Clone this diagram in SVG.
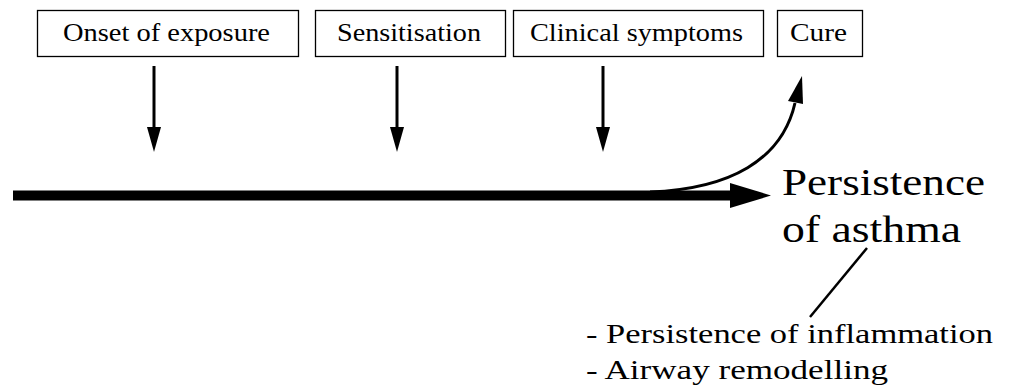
<svg xmlns="http://www.w3.org/2000/svg" width="1013" height="390" viewBox="0 0 1013 390">
<style>
  .box { fill: #ffffff; stroke: #000000; stroke-width: 1.3; }
  .lbl { font-family: "Liberation Serif", "Times New Roman", serif; font-size: 25px; fill: #000000; }
  .big { font-family: "Liberation Serif", "Times New Roman", serif; font-size: 38px; fill: #000000; }
  .note { font-family: "Liberation Serif", "Times New Roman", serif; font-size: 28px; fill: #000000; }
  .conn { stroke: #000000; fill: none; }
</style>
<defs>
  <marker id="ah" markerUnits="userSpaceOnUse" markerWidth="26" markerHeight="15" refX="0" refY="7" orient="auto">
    <path d="M0,0 L25,7 L0,14 Z" fill="#000000"/>
  </marker>
</defs>
<rect width="1013" height="390" fill="#ffffff"/>

<g id="node-onset">
  <rect class="box" x="37.5" y="10.5" width="261" height="46"/>
  <text class="lbl" x="63" y="41" textLength="207" lengthAdjust="spacingAndGlyphs">Onset of exposure</text>
</g>
<g id="node-sensitisation">
  <rect class="box" x="315.5" y="10.5" width="190" height="46"/>
  <text class="lbl" x="337" y="41" textLength="144" lengthAdjust="spacingAndGlyphs">Sensitisation</text>
</g>
<g id="node-clinical">
  <rect class="box" x="513.5" y="10.5" width="250" height="46"/>
  <text class="lbl" x="530" y="41" textLength="213" lengthAdjust="spacingAndGlyphs">Clinical symptoms</text>
</g>
<g id="node-cure">
  <rect class="box" x="777.5" y="10.5" width="85" height="46"/>
  <text class="lbl" x="790" y="41" textLength="57" lengthAdjust="spacingAndGlyphs">Cure</text>
</g>
<g id="node-persistence">
  <text class="big" x="782" y="195" textLength="203" lengthAdjust="spacingAndGlyphs">Persistence</text>
  <text class="big" x="782" y="242" textLength="179" lengthAdjust="spacingAndGlyphs">of asthma</text>
</g>
<g id="node-mechanisms">
  <text class="note" x="586" y="343" textLength="407" lengthAdjust="spacingAndGlyphs">- Persistence of inflammation</text>
  <text class="note" x="586" y="379" textLength="302" lengthAdjust="spacingAndGlyphs">- Airway remodelling</text>
</g>

<g id="connectors">
  <line class="conn" x1="154" y1="66" x2="154" y2="127" stroke-width="3" marker-end="url(#ah)"/>
  <line class="conn" x1="397" y1="66" x2="397" y2="127" stroke-width="3" marker-end="url(#ah)"/>
  <line class="conn" x1="603" y1="66" x2="603" y2="127" stroke-width="3" marker-end="url(#ah)"/>
  <line class="conn" x1="13" y1="195.5" x2="731" y2="195.5" stroke-width="10"/>
  <polygon points="730,183 771,195.5 730,208" fill="#000000"/>
  <path class="conn" d="M650,192 C730,189 782,160 795,103" stroke-width="3"/>
  <polygon points="788,101 803,104 802,76" fill="#000000"/>
  <line class="conn" x1="867" y1="248" x2="810" y2="317" stroke-width="2.5"/>
</g>
</svg>
